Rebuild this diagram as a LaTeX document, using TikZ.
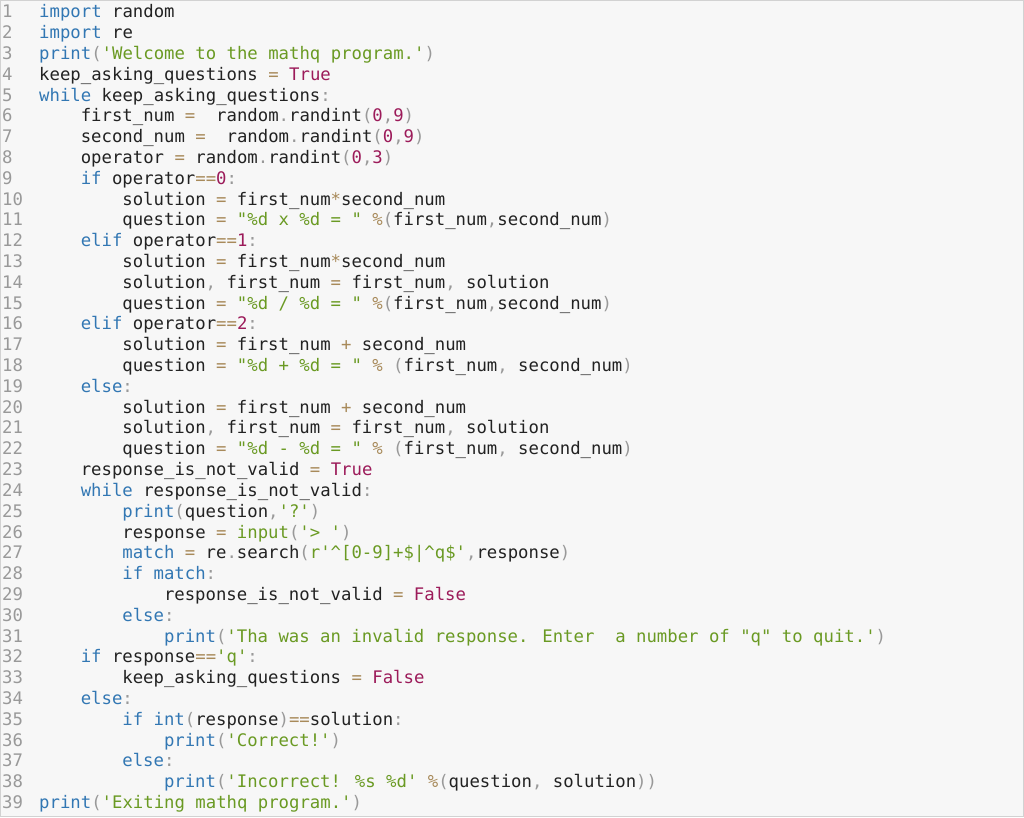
\documentclass[tikz,border=0pt]{standalone}
\usepackage{fontspec}
\newfontfamily\codefont{DejaVu Sans Mono}
\definecolor{kwc}{HTML}{3277B3}
\definecolor{stc}{HTML}{6A9A23}
\definecolor{nmc}{HTML}{9C1B5A}
\definecolor{opc}{HTML}{A88A5A}
\definecolor{puc}{HTML}{999999}
\definecolor{txc}{HTML}{222222}
\definecolor{lnc}{HTML}{999999}
\definecolor{bgc}{HTML}{F7F7F7}
\definecolor{bdc}{HTML}{D2D2D2}
\newcommand\cK[1]{\textcolor{kwc}{#1}}
\newcommand\cS[1]{\textcolor{stc}{#1}}
\newcommand\cN[1]{\textcolor{nmc}{#1}}
\newcommand\cO[1]{\textcolor{opc}{#1}}
\newcommand\cP[1]{\textcolor{puc}{#1}}
\newcommand\ca{\textasciicircum}
\newcommand\cl[3]{%
  \node[lnum] (n#1) at (2,{817-18-(#1-1)*20.8}) {#1};
  \node[codeline] (l#1) at ({39+#2*41.6},{817-18-(#1-1)*20.8}) {#3};}
\begin{document}
\begin{tikzpicture}[x=1pt,y=1pt,
  codeline/.style={anchor=base west,inner sep=0,text=txc,font=\codefont\fontsize{17.3}{20}\selectfont},
  lnum/.style={anchor=base west,inner sep=0,text=lnc,font=\codefont\fontsize{17.3}{20}\selectfont}]
\useasboundingbox (0,0) rectangle (1024,817);
\fill[bgc] (0,0) rectangle (1024,817);
\draw[bdc,line width=1pt] (0.5,0.5) rectangle (1023.5,816.5);
\cl{1}{0}{\cK{import} random}
\cl{2}{0}{\cK{import} re}
\cl{3}{0}{\cK{print}\cP{(}\cS{'Welcome to the mathq program.'}\cP{)}}
\cl{4}{0}{keep\_asking\_questions \cO{=} \cN{True}}
\cl{5}{0}{\cK{while} keep\_asking\_questions\cP{:}}
\cl{6}{1}{first\_num \cO{=}~~random\cP{.}randint\cP{(}\cN{0}\cP{,}\cN{9}\cP{)}}
\cl{7}{1}{second\_num \cO{=}~~random\cP{.}randint\cP{(}\cN{0}\cP{,}\cN{9}\cP{)}}
\cl{8}{1}{operator \cO{=} random\cP{.}randint\cP{(}\cN{0}\cP{,}\cN{3}\cP{)}}
\cl{9}{1}{\cK{if} operator\cO{==}\cN{0}\cP{:}}
\cl{10}{2}{solution \cO{=} first\_num\cO{*}second\_num}
\cl{11}{2}{question \cO{=} \cS{"\%d x \%d = "} \cO{\%}\cP{(}first\_num\cP{,}second\_num\cP{)}}
\cl{12}{1}{\cK{elif} operator\cO{==}\cN{1}\cP{:}}
\cl{13}{2}{solution \cO{=} first\_num\cO{*}second\_num}
\cl{14}{2}{solution\cP{,} first\_num \cO{=} first\_num\cP{,} solution}
\cl{15}{2}{question \cO{=} \cS{"\%d / \%d = "} \cO{\%}\cP{(}first\_num\cP{,}second\_num\cP{)}}
\cl{16}{1}{\cK{elif} operator\cO{==}\cN{2}\cP{:}}
\cl{17}{2}{solution \cO{=} first\_num \cO{+} second\_num}
\cl{18}{2}{question \cO{=} \cS{"\%d + \%d = "} \cO{\%} \cP{(}first\_num\cP{,} second\_num\cP{)}}
\cl{19}{1}{\cK{else}\cP{:}}
\cl{20}{2}{solution \cO{=} first\_num \cO{+} second\_num}
\cl{21}{2}{solution\cP{,} first\_num \cO{=} first\_num\cP{,} solution}
\cl{22}{2}{question \cO{=} \cS{"\%d - \%d = "} \cO{\%} \cP{(}first\_num\cP{,} second\_num\cP{)}}
\cl{23}{1}{response\_is\_not\_valid \cO{=} \cN{True}}
\cl{24}{1}{\cK{while} response\_is\_not\_valid\cP{:}}
\cl{25}{2}{\cK{print}\cP{(}question\cP{,}\cS{'?'}\cP{)}}
\cl{26}{2}{response \cO{=} \cS{input}\cP{(}\cS{'> '}\cP{)}}
\cl{27}{2}{\cK{match} \cO{=} re\cP{.}search\cP{(}\cS{r'\ca[0-9]+\$|\ca q\$'}\cP{,}response\cP{)}}
\cl{28}{2}{\cK{if} \cK{match}\cP{:}}
\cl{29}{3}{response\_is\_not\_valid \cO{=} \cN{False}}
\cl{30}{2}{\cK{else}\cP{:}}
\cl{31}{3}{\cK{print}\cP{(}\cS{'Tha was an invalid response. Enter~~a number of "q" to quit.'}\cP{)}}
\cl{32}{1}{\cK{if} response\cO{==}\cS{'q'}\cP{:}}
\cl{33}{2}{keep\_asking\_questions \cO{=} \cN{False}}
\cl{34}{1}{\cK{else}\cP{:}}
\cl{35}{2}{\cK{if} \cK{int}\cP{(}response\cP{)}\cO{==}solution\cP{:}}
\cl{36}{3}{\cK{print}\cP{(}\cS{'Correct!'}\cP{)}}
\cl{37}{2}{\cK{else}\cP{:}}
\cl{38}{3}{\cK{print}\cP{(}\cS{'Incorrect! \%s \%d'} \cO{\%}\cP{(}question\cP{,} solution\cP{))}}
\cl{39}{0}{\cK{print}\cP{(}\cS{'Exiting mathq program.'}\cP{)}}
\end{tikzpicture}
\end{document}
